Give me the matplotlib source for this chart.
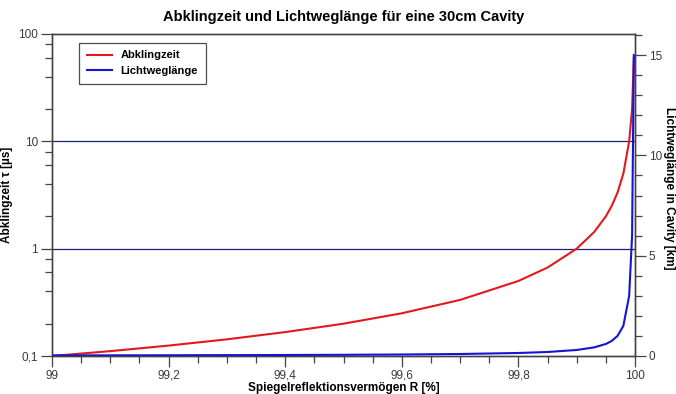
import matplotlib
matplotlib.use("Agg")
import matplotlib.pyplot as plt
from matplotlib.ticker import FixedLocator, MultipleLocator, FixedFormatter

plt.rcParams['font.family'] = ['Liberation Sans', 'DejaVu Sans']

# Data
reflect = [99.0, 99.1, 99.2, 99.3, 99.4, 99.5, 99.6, 99.7, 99.8, 99.85,
           99.9, 99.93, 99.95, 99.96, 99.97, 99.98, 99.99, 99.995, 99.998]
tau_us = [0.100, 0.111, 0.125, 0.143, 0.167, 0.200, 0.250, 0.333, 0.500, 0.667,
          1.00, 1.43, 2.00, 2.50, 3.33, 5.0, 10.0, 20.0, 60.0]
path_km = [0.03, 0.033, 0.0375, 0.043, 0.05, 0.06, 0.075, 0.10, 0.15, 0.20,
           0.30, 0.43, 0.60, 0.75, 1.0, 1.5, 3.0, 6.0, 15.0]

x_ticks = [99.0, 99.2, 99.4, 99.6, 99.8, 100.0]
x_labels = ["99", "99,2", "99,4", "99,6", "99,8", "100"]
left_ticks = [0.1, 1, 10, 100]
left_labels = ["0,1", "1", "10", "100"]
right_ticks = [0, 5, 10, 15]

red = "#e2191c"
blue = "#1414d2"
navy = "#20207a"
tickc = "#444444"

fig = plt.figure(figsize=(6.76, 3.94), dpi=100)
ax = fig.add_axes([52/676, 38/394, 583/676, 322/394])
ax2 = ax.twinx()

ax.set_xlim(99, 100)
ax.set_yscale('log')
ax.set_ylim(0.1, 100)
ax2.set_ylim(0, 16.05)

for yv in [1, 10]:
    ax.axhline(yv, color=navy, lw=0.9, zorder=1)

l1, = ax.plot(reflect, tau_us, color=red, lw=1.5, zorder=3, label="Abklingzeit")
l2, = ax2.plot(reflect, path_km, color=blue, lw=1.5, zorder=3, label="Lichtweglänge")

ax.xaxis.set_major_locator(FixedLocator(x_ticks))
ax.xaxis.set_major_formatter(FixedFormatter(x_labels))
ax.xaxis.set_minor_locator(MultipleLocator(0.05))
ax.yaxis.set_major_locator(FixedLocator(left_ticks))
ax.yaxis.set_major_formatter(FixedFormatter(left_labels))
minors = []
for d in [0.1, 1, 10]:
    minors += [d * k for k in (2, 4, 6, 8)]
ax.yaxis.set_minor_locator(FixedLocator(minors))
ax.yaxis.set_minor_formatter(FixedFormatter([""] * len(minors)))
ax2.yaxis.set_major_locator(FixedLocator(right_ticks))
ax2.yaxis.set_minor_locator(MultipleLocator(1))

for a in (ax, ax2):
    a.tick_params(which='major', direction='out', length=8, width=0.9,
                  color=tickc, labelsize=8.5, labelcolor="#3a3a3a", pad=2)
    a.tick_params(which='minor', direction='out', length=5, width=0.9, color=tickc)
    for s in a.spines.values():
        s.set_color(tickc)
        s.set_linewidth(1.0)

fig.text(0.5 * (52 + 635) / 676, 1 - 20.5 / 394,
         "Abklingzeit und Lichtweglänge für eine 30cm Cavity",
         fontsize=10.5, fontweight='bold', ha='center', va='baseline')
ax.set_xlabel("Spiegelreflektionsvermögen R [%]", fontsize=8.5, fontweight='bold', labelpad=0)
ax.set_ylabel("Abklingzeit τ [µs]", fontsize=8.5, fontweight='bold')
ax.yaxis.set_label_coords(-(52 - 13) / 583, 0.5)
ax2.set_ylabel("Lichtweglänge in Cavity [km]", fontsize=8.5, fontweight='bold',
               rotation=-90, va='center')
ax2.yaxis.set_label_coords(1 + (669 - 635) / 583, 0.52)

leg = ax2.legend(handles=[l1, l2], loc='upper left', bbox_to_anchor=(0.047, 0.973),
                 fontsize=8, frameon=True, fancybox=False, borderpad=0.7,
                 handlelength=2.2, labelspacing=0.5, borderaxespad=0)
leg.get_frame().set_edgecolor('#222222')
leg.get_frame().set_linewidth(0.9)
for t in leg.get_texts():
    t.set_fontweight('bold')

fig.savefig("out.png", dpi=100)
